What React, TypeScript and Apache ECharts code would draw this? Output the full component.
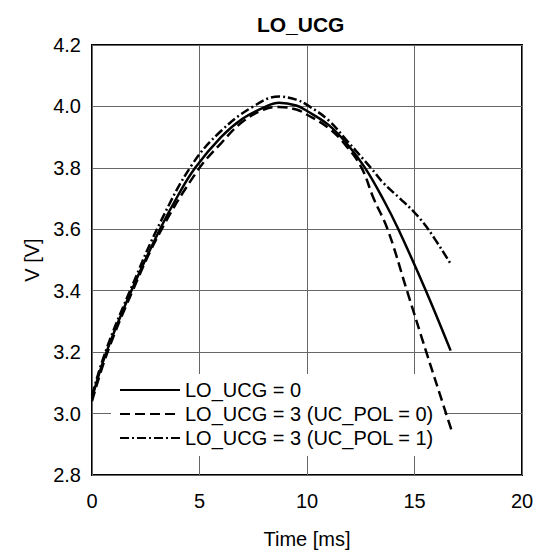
import React, { useEffect, useRef } from "react";
import * as echarts from "echarts";

const titleText = "LO_UCG";
const xAxisName = "Time [ms]";
const yAxisName = "V [V]";
const seriesNames = ["LO_UCG = 0", "LO_UCG = 3 (UC_POL = 0)", "LO_UCG = 3 (UC_POL = 1)"];

const tSolid = [0, 0.67, 1.83, 3.16, 4.0, 4.8, 6.0, 7.0, 8.1, 8.7, 9.5, 10.0, 11.0, 11.84, 12.7, 13.55, 14.25, 15.53, 16.68];
const vSolid = [3.05, 3.2, 3.4, 3.6, 3.71, 3.8, 3.9, 3.96, 4.0, 4.012, 4.003, 3.985, 3.94, 3.88, 3.8, 3.697, 3.6, 3.4, 3.205];

const tDash = [0, 0.67, 1.83, 3.16, 4.9, 6.0, 7.0, 8.0, 8.7, 9.5, 10.0, 11.0, 11.84, 12.54, 13.1, 13.75, 14.65, 15.55, 16.47, 16.73];
const vDash = [3.04, 3.19, 3.39, 3.59, 3.79, 3.88, 3.95, 3.99, 3.998, 3.99, 3.973, 3.93, 3.87, 3.8, 3.7, 3.6, 3.4, 3.2, 3.0, 2.944];

const tDashDot = [0, 0.67, 1.83, 3.16, 4.65, 6.0, 7.5, 8.7, 9.5, 10.0, 11.0, 11.84, 12.97, 13.55, 14.33, 15.02, 15.64, 16.65];
const vDashDot = [3.06, 3.21, 3.41, 3.62, 3.81, 3.92, 4.0, 4.032, 4.022, 4.005, 3.955, 3.89, 3.8, 3.751, 3.7, 3.653, 3.6, 3.491];

const xTicks = { min: 0, max: 20, interval: 5 };
const yTicks = { min: 2.8, max: 4.2, interval: 0.2 };

const FONT = "'Liberation Sans', Arial, Helvetica, sans-serif";

function pairs(xs: number[], ys: number[]) {
  return xs.map((x, i) => [x, ys[i]]);
}

export default function App() {
  const ref = useRef<HTMLDivElement>(null);
  useEffect(() => {
    if (!ref.current) return;
    const chart = echarts.init(ref.current, undefined, { renderer: "svg" });
    const lineBase = { color: "#000", width: 2.5 };
    const mk = (name: string, xs: number[], ys: number[], type: any) => ({
      name,
      type: "line",
      data: pairs(xs, ys),
      showSymbol: false,
      symbol: "none",
      smooth: 0.4,
      lineStyle: { ...lineBase, type },
      itemStyle: { color: "#000" },
      z: 6,
    });
    chart.setOption({
      animation: false,
      backgroundColor: "#fff",
      textStyle: { fontFamily: FONT, color: "#000" },
      title: {
        text: titleText,
        left: 295.7,
        top: 9,
        textAlign: "center",
        textStyle: { fontFamily: FONT, fontSize: 21, fontWeight: "bold", color: "#000" },
      },
      grid: {
        left: 92,
        top: 45,
        right: 18,
        bottom: 78,
        show: true,
        borderColor: "#000",
        borderWidth: 2,
        backgroundColor: "transparent",
      },
      legend: {
        orient: "vertical",
        left: 111,
        top: 374,
        z: 4,
        backgroundColor: "#fff",
        padding: [6, 10, 8, 8],
        itemWidth: 60,
        itemHeight: 14,
        itemGap: 4,
        itemStyle: { opacity: 0 },
        textStyle: { fontFamily: FONT, fontSize: 20, color: "#000", lineHeight: 20 },
        data: seriesNames,
      },
      xAxis: {
        type: "value",
        min: xTicks.min,
        max: xTicks.max,
        interval: xTicks.interval,
        name: xAxisName,
        nameLocation: "middle",
        nameGap: 54,
        nameTextStyle: { fontFamily: FONT, fontSize: 20, color: "#000" },
        axisLine: { show: false },
        axisTick: { show: false },
        axisLabel: { fontFamily: FONT, fontSize: 20, color: "#000", margin: 16 },
        splitLine: { show: true, lineStyle: { color: "#666", width: 1 } },
      },
      yAxis: {
        type: "value",
        min: yTicks.min,
        max: yTicks.max,
        interval: yTicks.interval,
        name: yAxisName,
        nameLocation: "middle",
        nameGap: 47,
        nameTextStyle: { fontFamily: FONT, fontSize: 20, color: "#000" },
        axisLine: { show: false },
        axisTick: { show: false },
        axisLabel: {
          fontFamily: FONT,
          fontSize: 20,
          color: "#000",
          margin: 11,
          formatter: (v: number) => v.toFixed(1),
        },
        splitLine: { show: true, lineStyle: { color: "#666", width: 1 } },
      },
      series: [
        mk(seriesNames[0], tSolid, vSolid, "solid"),
        mk(seriesNames[1], tDash, vDash, [10, 5]),
        mk(seriesNames[2], tDashDot, vDashDot, [9, 3, 2, 3]),
      ],
    });
    return () => chart.dispose();
  }, []);
  return <div ref={ref} style={{ width: 540, height: 554, position: "absolute", left: 0, top: 0 }} />;
}
